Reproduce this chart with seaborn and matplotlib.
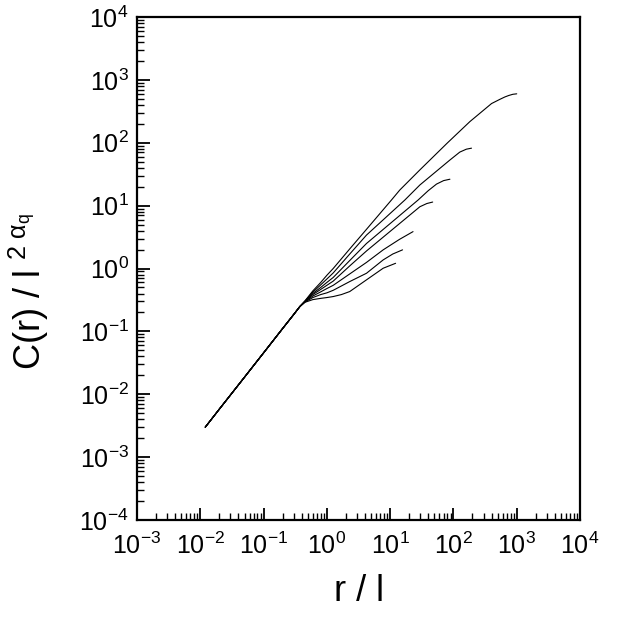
import numpy as np
import pandas as pd
import matplotlib
matplotlib.use("Agg")
import matplotlib.pyplot as plt
import seaborn as sns
from matplotlib.ticker import LogLocator, NullFormatter

# ---- data ----
# common initial segment shared by all curves
r_common = [0.012, 0.02, 0.05, 0.1, 0.2, 0.3, 0.374]
c_common = [0.003, 0.0058, 0.0187, 0.0455, 0.111, 0.186, 0.248]

# individual tails (r / l, C(r) / l^(2 alpha_q))
r_1 = [0.45, 0.6, 0.8, 1.0, 1.26, 2.3, 4.23, 10.5, 14.2, 29.5, 80, 182, 400, 541, 650, 750, 870, 1000]
c_1 = [0.305, 0.44, 0.6, 0.78, 1.0, 2.05, 4.2, 12.3, 17.7, 37, 99, 217, 420, 490, 535, 565, 590, 600]

r_2 = [0.45, 0.6, 0.8, 1.0, 1.26, 2.3, 4.23, 17.1, 29.5, 87.7, 126, 160, 193]
c_2 = [0.302, 0.42, 0.55, 0.68, 0.85, 1.7, 3.4, 12.3, 21.3, 53, 71, 79, 82]

r_3 = [0.45, 0.6, 0.8, 1.0, 1.26, 2.3, 4.23, 27.7, 40, 54, 70, 88]
c_3 = [0.30, 0.40, 0.50, 0.60, 0.72, 1.34, 2.5, 12.3, 17.3, 22.0, 25.0, 26.3]

r_4 = [0.45, 0.6, 0.8, 1.0, 1.26, 2.3, 4.23, 29.5, 38, 47]
c_4 = [0.298, 0.385, 0.465, 0.54, 0.63, 1.1, 1.9, 9.6, 10.8, 11.4]

r_5 = [0.45, 0.6, 0.8, 1.0, 1.26, 2.3, 4.23, 7.76, 14, 23]
c_5 = [0.295, 0.365, 0.425, 0.48, 0.54, 0.82, 1.25, 1.98, 2.9, 3.86]

r_6 = [0.45, 0.6, 0.8, 1.0, 1.26, 2.3, 4.23, 7.76, 11, 15.7]
c_6 = [0.292, 0.345, 0.385, 0.41, 0.45, 0.62, 0.84, 1.37, 1.7, 1.98]

r_7 = [0.45, 0.6, 0.8, 1.0, 1.26, 1.7, 2.3, 4.23, 7.76, 12.2]
c_7 = [0.29, 0.32, 0.335, 0.345, 0.358, 0.385, 0.43, 0.66, 1.01, 1.21]

x_label = "r / l"
y_label = r"C(r) / l $^{2\ \alpha_q}$"

tails = [(r_1, c_1), (r_2, c_2), (r_3, c_3), (r_4, c_4),
         (r_5, c_5), (r_6, c_6), (r_7, c_7)]

rows = []
for k, (rt, ct) in enumerate(tails, start=1):
    for r, c in zip(r_common + rt, c_common + ct):
        rows.append({"curve": k, "r": r, "C": c})
df = pd.DataFrame(rows)

# ---- style ----
sns.set_style("white")
plt.rcParams["font.family"] = ["Liberation Sans", "DejaVu Sans"]
plt.rcParams["mathtext.fontset"] = "custom"
plt.rcParams["mathtext.rm"] = "Liberation Sans"
plt.rcParams["mathtext.it"] = "Liberation Sans:italic"
plt.rcParams["mathtext.default"] = "regular"
for key in ["text.color", "axes.labelcolor", "xtick.color", "ytick.color", "axes.edgecolor"]:
    plt.rcParams[key] = "black"

fig = plt.figure(figsize=(6.18, 6.19), dpi=100)
ax = fig.add_axes([137 / 618, 1 - 520 / 619, (580 - 137) / 618, (520 - 17) / 619])

sns.lineplot(data=df, x="r", y="C", units="curve", estimator=None, sort=False,
             color="black", linewidth=0.8, ax=ax, legend=False)

ax.set_xscale("log")
ax.set_yscale("log")
ax.set_xlim(1e-3, 1e4)
ax.set_ylim(1e-4, 1e4)

ax.xaxis.set_major_locator(LogLocator(base=10, numticks=20))
ax.yaxis.set_major_locator(LogLocator(base=10, numticks=20))
ax.xaxis.set_minor_locator(LogLocator(base=10, subs=np.arange(2, 10), numticks=100))
ax.yaxis.set_minor_locator(LogLocator(base=10, subs=np.arange(2, 10), numticks=100))
ax.xaxis.set_minor_formatter(NullFormatter())
ax.yaxis.set_minor_formatter(NullFormatter())

ax.tick_params(axis="both", which="major", direction="in", length=9, width=1.3,
               labelsize=18, bottom=True, left=True, top=False, right=False,
               color="black", labelcolor="black")
ax.tick_params(axis="x", which="major", pad=9)
ax.tick_params(axis="y", which="major", pad=6)
ax.tick_params(axis="both", which="minor", direction="in", length=5, width=1.0,
               bottom=True, left=True, top=False, right=False, color="black")

for s in ax.spines.values():
    s.set_visible(True)
    s.set_color("black")
    s.set_linewidth(1.6)

ax.set_xlabel(x_label, fontsize=26)
ax.set_ylabel(y_label, fontsize=26)
ax.xaxis.set_label_coords(0.5, -0.108)
ax.yaxis.set_label_coords(-0.243, 0.455)
ax.yaxis.label.set_va("center")
ax.xaxis.label.set_va("top")

fig.savefig("out.png", dpi=100, facecolor="white")
